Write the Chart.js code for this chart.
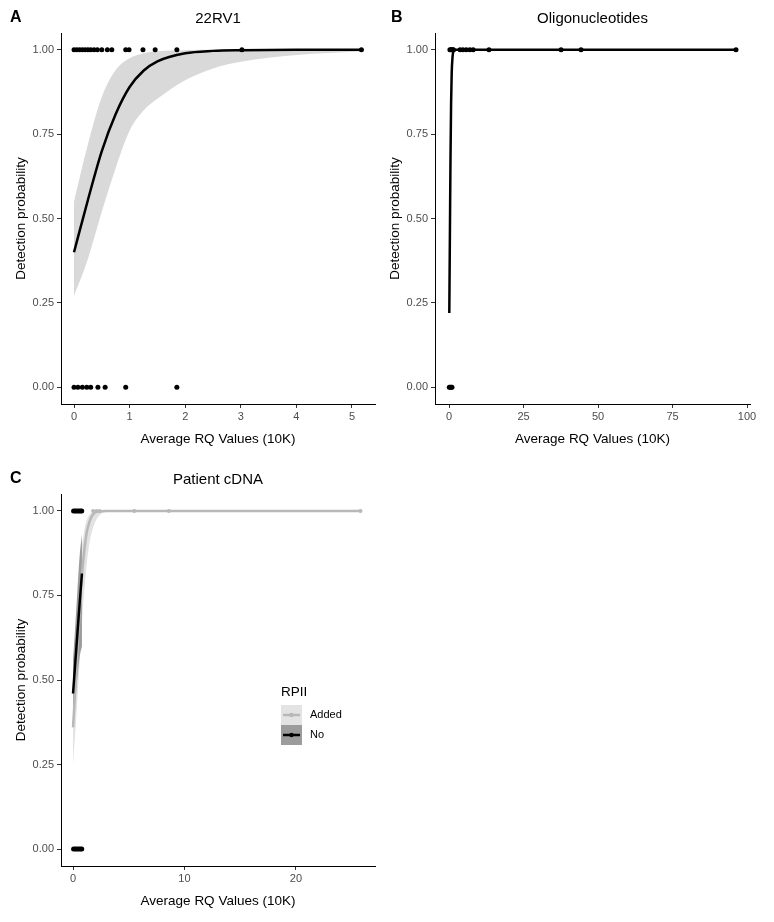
<!DOCTYPE html>
<html>
<head>
<meta charset="utf-8">
<script src="https://cdn.jsdelivr.net/npm/chart.js@4.4.1/dist/chart.umd.min.js"></script>
<style>
  body { margin: 0; background: #fff; }
  #wrap { position: relative; width: 774px; height: 922px; }
  canvas { position: absolute; }
</style>
</head>
<body>
<div id="wrap">
  <canvas id="chartA" width="387" height="460" style="left:0;top:0"></canvas>
  <canvas id="chartB" width="387" height="460" style="left:387px;top:0"></canvas>
  <canvas id="chartC" width="387" height="461" style="left:0;top:461px"></canvas>
</div>
<script>
// ---- data ----
const probTicks = [0, 0.25, 0.5, 0.75, 1];

// A: 22RV1
const rvTicks = [0, 1, 2, 3, 4, 5];
const rvHitX = [0, 0.05, 0.1, 0.15, 0.2, 0.25, 0.3, 0.36, 0.42, 0.5, 0.6, 0.68, 0.93, 0.99, 1.24, 1.46, 1.85, 3.02, 5.17];
const rvMissX = [0, 0.07, 0.15, 0.23, 0.3, 0.43, 0.56, 0.93, 1.85];
const rvFitX = [0, 0.25, 0.5, 0.75, 1, 1.25, 1.5, 2, 2.5, 3, 4, 5.17];
const rvFitY = [0.40, 0.555, 0.70, 0.81, 0.89, 0.938, 0.966, 0.99, 0.997, 0.999, 1, 1];
const rvLowY = [0.27, 0.38, 0.52, 0.65, 0.76, 0.82, 0.855, 0.91, 0.945, 0.965, 0.985, 0.995];
const rvHighY = [0.55, 0.72, 0.86, 0.94, 0.975, 0.99, 0.996, 0.999, 1, 1, 1, 1];

// B: Oligonucleotides
const oligoTicks = [0, 25, 50, 75, 100];
const oligoHitX = [0.3, 0.6, 0.9, 1.2, 1.5, 3.7, 4.7, 5.8, 7.0, 8.1, 13.4, 37.6, 44.3, 96.3];
const oligoMissX = [0.1, 0.4, 0.7, 1.0];
const oligoFitX = [0.1, 0.3, 0.5, 0.7, 0.9, 1.2, 1.6, 2.5, 96.3];
const oligoFitY = [0.22, 0.45, 0.68, 0.84, 0.93, 0.98, 0.997, 1, 1];
const oligoLowY = [0.15, 0.33, 0.55, 0.74, 0.87, 0.95, 0.99, 1, 1];
const oligoHighY = [0.31, 0.58, 0.79, 0.91, 0.97, 0.995, 1, 1, 1];

// C: Patient cDNA, RPII Added / No
const cdnaTicks = [0, 10, 20];
const cdnaNoHitX = [0.05, 0.2, 0.35, 0.5, 0.65, 0.78];
const cdnaNoMissX = [0.05, 0.2, 0.35, 0.5, 0.65, 0.78];
const cdnaAddedHitX = [1.8, 2.1, 2.4, 5.5, 8.6, 25.8];
const cdnaNoFitX = [0, 0.2, 0.4, 0.6, 0.8];
const cdnaNoFitY = [0.46, 0.55, 0.64, 0.73, 0.815];
const cdnaNoLowY = [0.36, 0.44, 0.51, 0.57, 0.60];
const cdnaNoHighY = [0.56, 0.66, 0.77, 0.87, 0.93];
const cdnaAddedFitX = [0, 0.25, 0.5, 0.75, 1, 1.25, 1.5, 1.8, 2.2, 3, 25.8];
const cdnaAddedFitY = [0.36, 0.5, 0.65, 0.79, 0.88, 0.94, 0.97, 0.99, 0.998, 1, 1];
const cdnaAddedLowY = [0.25, 0.37, 0.5, 0.64, 0.76, 0.85, 0.91, 0.95, 0.98, 0.997, 1];
const cdnaAddedHighY = [0.5, 0.64, 0.78, 0.88, 0.94, 0.975, 0.99, 0.997, 1, 1, 1];

const FONT = '"Liberation Sans", Arial, Helvetica, sans-serif';
Chart.defaults.font.family = FONT;

function xy(xs, ys) { return xs.map((x, i) => ({ x: x, y: ys[i] })); }
function atLevel(xs, level) { return xs.map(x => ({ x: x, y: level })); }

function pointSet(data, color, r) {
  return { data: data, showLine: false, pointRadius: r, pointBackgroundColor: color,
           pointBorderWidth: 0, borderColor: color, order: 0 };
}
function lineSet(data, color, order) {
  return { data: data, borderColor: color, borderWidth: 2.5, pointRadius: 0, fill: false,
           cubicInterpolationMode: 'monotone', order: order };
}
// lower + upper edge, the upper one fills down to the lower one
function bandSets(lower, upper, color, order) {
  var edge = { borderWidth: 0, borderColor: 'rgba(0,0,0,0)', pointRadius: 0,
               cubicInterpolationMode: 'monotone', order: order };
  return [
    Object.assign({ data: lower, fill: false }, edge),
    Object.assign({ data: upper, fill: '-1', backgroundColor: color }, edge)
  ];
}

function makeScales(xMin, xMax, xTicks, yWidth, yTitlePad) {
  return {
    x: {
      type: 'linear', min: xMin, max: xMax,
      afterBuildTicks: function(s) { s.ticks = xTicks.map(v => ({ value: v })); },
      afterFit: function(s) { s.height = 56; },
      ticks: { color: '#4d4d4d', font: { size: 11 }, padding: 2, maxRotation: 0, autoSkip: false,
               callback: v => String(v) },
      grid: { drawOnChartArea: false, drawTicks: true, tickLength: 4, color: '#333' },
      border: { display: true, color: '#000', width: 1 },
      title: { display: true, text: 'Average RQ Values (10K)', color: '#000',
               font: { size: 13.5 }, padding: { top: 0, bottom: 13 } }
    },
    y: {
      type: 'linear', min: -0.05, max: 1.05,
      afterBuildTicks: function(s) { s.ticks = probTicks.map(v => ({ value: v })); },
      afterFit: function(s) { s.width = yWidth; },
      ticks: { color: '#4d4d4d', font: { size: 11 }, padding: 3, autoSkip: false,
               callback: v => v.toFixed(2) },
      grid: { drawOnChartArea: false, drawTicks: true, tickLength: 4, color: '#333' },
      border: { display: true, color: '#000', width: 1 },
      title: { display: true, text: 'Detection probability', color: '#000',
               font: { size: 13.5 }, padding: { top: yTitlePad, bottom: 0 } }
    }
  };
}

// panel letter + centred title
const panelText = {
  id: 'panelText',
  afterDraw: function(chart, args, opts) {
    var ctx = chart.ctx, area = chart.chartArea;
    ctx.save();
    ctx.fillStyle = '#000';
    ctx.textBaseline = 'middle';
    ctx.textAlign = 'left';
    ctx.font = 'bold 16px ' + FONT;
    ctx.fillText(opts.letter, opts.letterX, 18);
    ctx.font = '15px ' + FONT;
    ctx.textAlign = 'center';
    ctx.fillText(opts.title, (area.left + area.right) / 2, 19);
    ctx.restore();
  }
};

// RPII legend drawn inside panel C
const rpiiLegend = {
  id: 'rpiiLegend',
  afterDraw: function(chart) {
    var ctx = chart.ctx;
    var keys = [
      { label: 'Added', fill: '#e3e3e3', line: '#b8b8b8', top: 244 },
      { label: 'No', fill: '#9c9c9c', line: '#000', top: 264 }
    ];
    ctx.save();
    ctx.fillStyle = '#000';
    ctx.font = '13.5px ' + FONT;
    ctx.textBaseline = 'middle';
    ctx.fillText('RPII', 281, 231);
    keys.forEach(function(k) {
      ctx.fillStyle = k.fill;
      ctx.fillRect(281, k.top, 21, 20);
      ctx.strokeStyle = k.line;
      ctx.lineWidth = 2.5;
      ctx.beginPath();
      ctx.moveTo(283, k.top + 10);
      ctx.lineTo(300, k.top + 10);
      ctx.stroke();
      ctx.fillStyle = k.line;
      ctx.beginPath();
      ctx.arc(291.5, k.top + 10, 2.2, 0, Math.PI * 2);
      ctx.fill();
      ctx.fillStyle = '#000';
      ctx.font = '11px ' + FONT;
      ctx.fillText(k.label, 310, k.top + 10);
    });
    ctx.restore();
  }
};

function baseOptions(scales, letter, letterX, title, rightPad) {
  return {
    responsive: false, maintainAspectRatio: false, animation: false,
    layout: { padding: { top: 33, right: rightPad, left: 0, bottom: 0 } },
    scales: scales,
    plugins: {
      legend: { display: false },
      tooltip: { enabled: false },
      panelText: { letter: letter, letterX: letterX, title: title }
    }
  };
}

new Chart(document.getElementById('chartA'), {
  type: 'line',
  data: {
    datasets: bandSets(xy(rvFitX, rvLowY), xy(rvFitX, rvHighY), '#d9d9d9', 2).concat([
      lineSet(xy(rvFitX, rvFitY), '#000', 1),
      pointSet(atLevel(rvHitX, 1), '#000', 2.5),
      pointSet(atLevel(rvMissX, 0), '#000', 2.5)
    ])
  },
  options: baseOptions(makeScales(-0.234, 5.414, rvTicks, 61, 13), 'A', 10, '22RV1', 12),
  plugins: [panelText]
});

new Chart(document.getElementById('chartB'), {
  type: 'line',
  data: {
    datasets: bandSets(xy(oligoFitX, oligoLowY), xy(oligoFitX, oligoHighY), '#e6e6e6', 2).concat([
      lineSet(xy(oligoFitX, oligoFitY), '#000', 1),
      pointSet(atLevel(oligoHitX, 1), '#000', 2.5),
      pointSet(atLevel(oligoMissX, 0), '#000', 2.5)
    ])
  },
  options: baseOptions(makeScales(-4.7, 101.0, oligoTicks, 48, 0), 'B', 4, 'Oligonucleotides', 24),
  plugins: [panelText]
});

new Chart(document.getElementById('chartC'), {
  type: 'line',
  data: {
    datasets: []
      .concat(bandSets(xy(cdnaAddedFitX, cdnaAddedLowY), xy(cdnaAddedFitX, cdnaAddedHighY), '#e2e2e2', 4))
      .concat(bandSets(xy(cdnaNoFitX, cdnaNoLowY), xy(cdnaNoFitX, cdnaNoHighY), '#9c9c9c', 3))
      .concat([
        lineSet(xy(cdnaAddedFitX, cdnaAddedFitY), '#b8b8b8', 2),
        lineSet(xy(cdnaNoFitX, cdnaNoFitY), '#000', 1),
        pointSet(atLevel(cdnaAddedHitX, 1), '#b8b8b8', 2),
        pointSet(atLevel(cdnaNoHitX, 1), '#000', 2.5),
        pointSet(atLevel(cdnaNoMissX, 0), '#000', 2.5)
      ])
  },
  options: baseOptions(makeScales(-1.08, 27.1, cdnaTicks, 61, 13), 'C', 10, 'Patient cDNA', 12),
  plugins: [panelText, rpiiLegend]
});
</script>
</body>
</html>
